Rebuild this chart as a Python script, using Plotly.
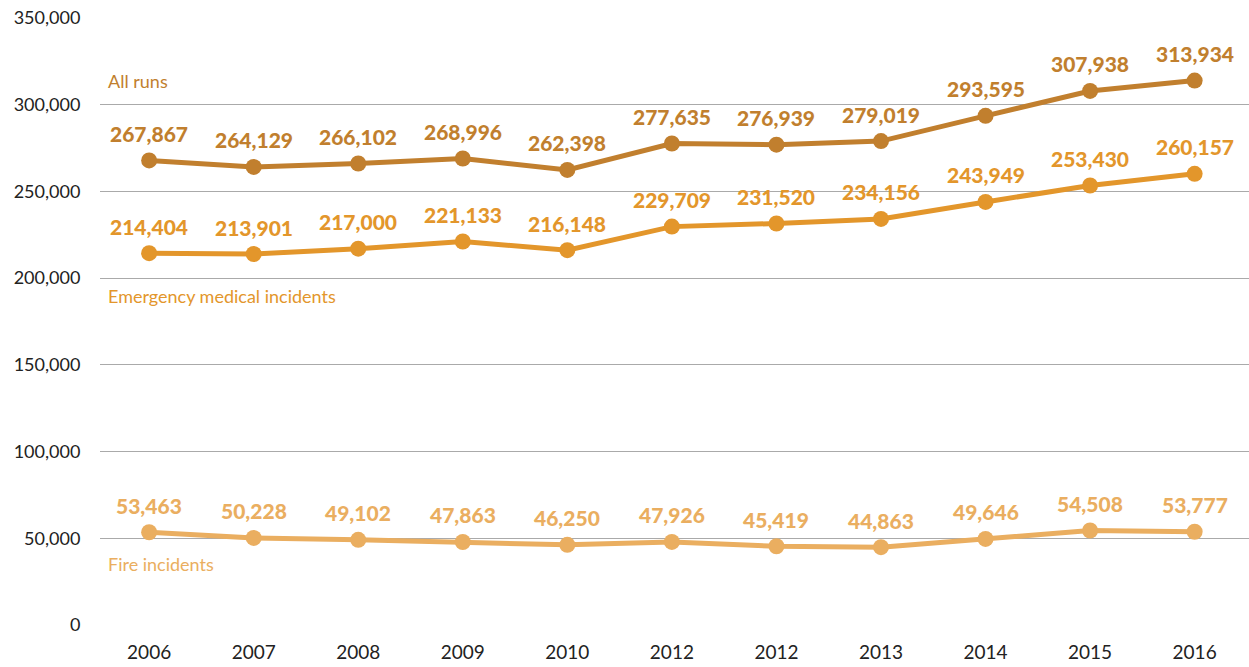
import plotly.graph_objects as go

# Category positions and their displayed year labels
years = ["2006", "2007", "2008", "2009", "2010", "2012", "2012", "2013", "2014", "2015", "2016"]
positions = list(range(len(years)))

all_runs = [267867, 264129, 266102, 268996, 262398, 277635, 276939, 279019, 293595, 307938, 313934]
ems = [214404, 213901, 217000, 221133, 216148, 229709, 231520, 234156, 243949, 253430, 260157]
fire = [53463, 50228, 49102, 47863, 46250, 47926, 45419, 44863, 49646, 54508, 53777]

series = [
    ("All runs", all_runs, "#C17F2E", 81),
    ("Emergency medical incidents", ems, "#E3962B", 296),
    ("Fire incidents", fire, "#EAAE60", 564),
]

FONT = "Lato"

fig = go.Figure()
annotations = []
for name, vals, color, label_y in series:
    fig.add_trace(go.Scatter(
        x=positions, y=vals, mode="lines+markers",
        line=dict(color=color, width=5),
        marker=dict(color=color, size=16),
        name=name, showlegend=False, hoverinfo="skip",
    ))
    for xi, v in zip(positions, vals):
        annotations.append(dict(
            x=xi, y=v, xref="x", yref="y", text=f"{v:,}", showarrow=False,
            yshift=27, font=dict(family=FONT, size=21, color=color, weight=900),
        ))
    annotations.append(dict(
        x=0, xref="paper", y=label_y, yref="paper", text=name, showarrow=False,
        xanchor="left", yanchor="middle", xshift=6,
        font=dict(family=FONT, size=18, color=color),
    ))

# convert pixel y for series names to paper coordinates
H, top, bottom = 667, 18, 42
plot_h = H - top - bottom
for a in annotations:
    if a["yref"] == "paper":
        a["y"] = (H - bottom - a["y"]) / plot_h

fig.update_layout(
    width=1249, height=667,
    margin=dict(l=100, r=0, t=top, b=bottom),
    plot_bgcolor="white", paper_bgcolor="white",
    font=dict(family=FONT, size=18, color="#222222"),
    annotations=annotations,
    xaxis=dict(
        range=[-0.47, 10.52], tickmode="array", tickvals=positions, ticktext=years,
        showgrid=False, zeroline=False, showline=False,
        ticks="outside", ticklen=10, tickcolor="rgba(0,0,0,0)",
        tickfont=dict(family=FONT, size=19, color="#222222"),
    ),
    yaxis=dict(
        range=[0, 350000], tickvals=list(range(0, 350001, 50000)),
        tickformat=",d", showgrid=True, gridcolor="#aaaaaa", gridwidth=1,
        zeroline=False, showline=False,
        ticks="outside", ticklen=15, tickcolor="rgba(0,0,0,0)",
        tickfont=dict(family=FONT, size=18, color="#222222"),
    ),
)

fig.write_html("out.html")
